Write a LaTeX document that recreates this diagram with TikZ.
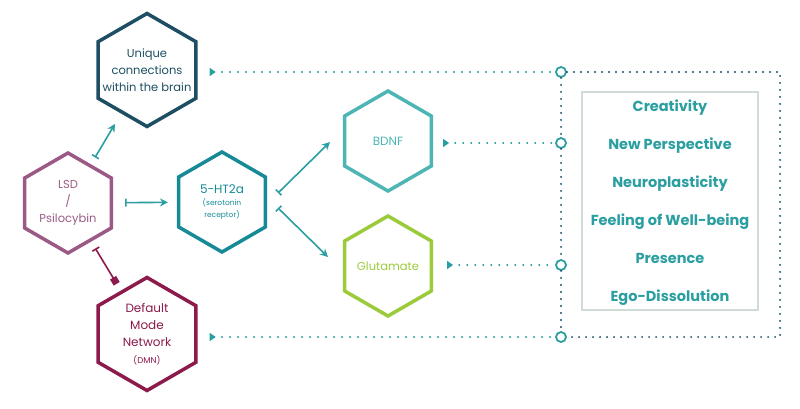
\documentclass[tikz,border=0pt]{standalone}
\usepackage{fontspec}
\setmainfont{Poppins}
\usetikzlibrary{positioning,arrows.meta,calc,shapes.geometric}

\definecolor{navyblue}{HTML}{1D4E63}
\definecolor{mauve}{HTML}{9B5985}
\definecolor{htteal}{HTML}{168A96}
\definecolor{crimson}{HTML}{8C1A4B}
\definecolor{lightteal}{HTML}{4DB6B4}
\definecolor{lime}{HTML}{9BCB3B}
\definecolor{arrteal}{HTML}{2A9EA0}
\definecolor{boxgray}{HTML}{CFDCD8}

\begin{document}
\begin{tikzpicture}[
  x=1pt, y=-1pt,
  hexbig/.style={regular polygon, regular polygon sides=6, shape border rotate=30, draw, line width=3.5pt, minimum size=113pt, inner sep=0pt},
  hexsmall/.style={hexbig, minimum size=100pt},
  hextext/.style={align=center, font=\fontsize{11.5}{17}\selectfont},
  arrow/.style={{Bar[width=8pt]}-{Stealth[length=8pt,width=8pt]}, line width=1.6pt, draw=arrteal},
  dotline/.style={{Triangle[reversed,length=6pt,width=8pt]}-, line width=2.2pt, dash pattern=on 0pt off 8pt, line cap=round, draw=arrteal},
  frame/.style={line width=2.2pt, dash pattern=on 0pt off 7pt, line cap=round, draw=navyblue},
  hub/.style={circle, draw=arrteal, fill=white, line width=1.8pt, minimum size=10pt, inner sep=0pt}
]
\useasboundingbox (0,0) rectangle (800,408);

% Hexagons
\node[hexbig, draw=navyblue] (uniq) at (147,70) {};
\node[hexsmall, draw=mauve] (lsd) at (68,203) {};
\node[hexsmall, draw=htteal] (ht) at (222,202) {};
\node[hexbig, draw=crimson] (dmn) at (147,334) {};
\node[hexsmall, draw=lightteal] (bdnf) at (388,141) {};
\node[hexsmall, draw=lime] (glu) at (388,266) {};

% Hexagon texts
\node[hextext, text=navyblue] (uniqtxt) at (uniq) {Unique\\connections\\within the brain};
\node[hextext, text=mauve] (lsdtxt) at (lsd) {LSD\\/\\Psilocybin};
\node[align=center, text=htteal, font=\fontsize{7.5}{12}\selectfont] (httxt) at (ht)
  {{\fontsize{12}{14}\selectfont 5-HT2a}\\(serotonin\\receptor)};
\node[align=center, text=crimson, font=\fontsize{12}{17}\selectfont] (dmntxt) at (dmn)
  {Default\\Mode\\Network\\{\fontsize{8.5}{12}\selectfont (DMN)}};
\node[hextext, text=lightteal, font=\fontsize{12}{17}\selectfont] (bdnftxt) at (bdnf) {BDNF};
\node[hextext, text=lime] (glutxt) at (glu) {Glutamate};

% Effects box
\node[draw=boxgray, line width=1.2pt, minimum width=176pt, minimum height=218pt] (effbox) at (670,201) {};
\node[align=center, text=arrteal, font=\fontsize{14.5}{38}\selectfont\bfseries] (effects) at (670,203)
  {Creativity\\New Perspective\\Neuroplasticity\\Feeling of Well-being\\Presence\\Ego-Dissolution};

% Hubs and frame
\node[hub] (h1) at (561,72) {};
\node[hub] (h2) at (561,143) {};
\node[hub] (h3) at (561,265) {};
\node[hub] (h4) at (561,337) {};
\coordinate (tr) at (780,72);
\coordinate (br) at (780,337);
\draw[frame] (h1) -- (h2) -- (h3) -- (h4);
\draw[frame] (h1) -- (tr) -- (br) -- (h4);

% Solid arrows
\draw[arrow, shorten <=8pt, shorten >=12pt] (lsd) -- (uniq);
\draw[arrow, shorten <=12pt, shorten >=9pt] (lsd) -- (ht);
\draw[arrow] ($(ht.east)+(11,-9)$) -- ($(bdnf.west)+(-13,1)$);
\draw[arrow] ($(ht.east)+(11,6)$) -- ($(glu.west)+(-15,-9)$);
\draw[{Bar[width=8pt]}-{Square[length=7pt,width=7pt]}, line width=1.6pt, draw=crimson,
  shorten <=8pt, shorten >=8pt] (lsd) -- (dmn);

% Dotted connectors
\draw[dotline, shorten <=12pt] (uniq.east |- h1) -- (h1);
\draw[dotline, shorten <=10pt] (bdnf.east |- h2) -- (h2);
\draw[dotline, shorten <=14pt] (glu.east |- h3) -- (h3);
\draw[dotline, shorten <=12pt] (dmn.east |- h4) -- (h4);

\end{tikzpicture}
\end{document}
